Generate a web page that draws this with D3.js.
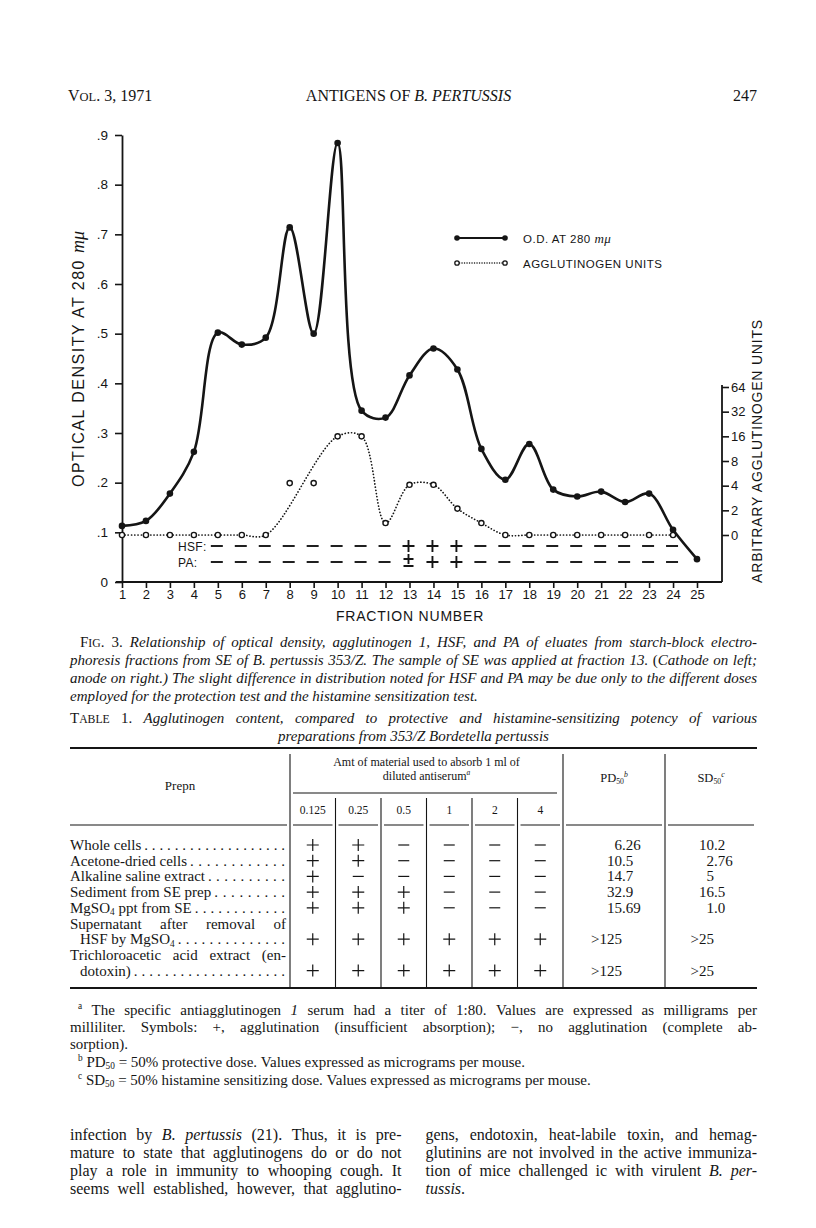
<!DOCTYPE html>
<html>
<head>
<meta charset="utf-8">
<script src="https://cdn.jsdelivr.net/npm/d3@7"></script>
<style>
  body { margin: 0; background: #fff; }
</style>
</head>
<body>
<svg id="page" width="816" height="1228"></svg>
<script>
// ---- chart data ----
const fractions = d3.range(1, 26);
const odValues = [0.113, 0.123, 0.178, 0.262, 0.502, 0.478, 0.492, 0.714, 0.500, 0.884,
                  0.345, 0.331, 0.416, 0.470, 0.428, 0.268, 0.206, 0.278, 0.186, 0.172,
                  0.182, 0.161, 0.178, 0.105, 0.046];
const aggFractions = d3.range(1, 25);
const aggValues = [0, 0, 0, 0, 0, 0, 0, 4.3, 4.3, 16, 16, 1.4, 4.1, 4.1, 2.1, 1.4,
                   0, 0, 0, 0, 0, 0, 0, 0];
const aggOffCurve = [8, 9];           // plotted points not joined by the dotted curve
const odTicks = [0, .1, .2, .3, .4, .5, .6, .7, .8, .9];
const aggTicks = [1, 2, 4, 8, 16, 32, 64];
const aggTickLabels = ['0', '2', '4', '8', '16', '32', '64'];
const testFractions = d3.range(5, 25);
const hsfResults = ['−','−','−','−','−','−','−','−','+','+','+','−','−','−','−','−','−','−','−','−'];
const paResults  = ['−','−','−','−','−','−','−','−','±','+','+','−','−','−','−','−','−','−','−','−'];

// ---- table data ----
const prepNames = [['Whole cells'], ['Acetone-dried cells'], ['Alkaline saline extract'],
  ['Sediment from SE prep'], ['MgSO{4} ppt from SE'],
  ['Supernatant after removal of', 'HSF by MgSO{4}'],
  ['Trichloroacetic acid extract (en-', 'dotoxin)']];
const doses = ['0.125', '0.25', '0.5', '1', '2', '4'];
const agglut = [
  ['+','+','−','−','−','−'],
  ['+','+','−','−','−','−'],
  ['+','−','−','−','−','−'],
  ['+','+','+','−','−','−'],
  ['+','+','+','−','−','−'],
  ['+','+','+','+','+','+'],
  ['+','+','+','+','+','+']];
const pd50 = ['6.26', '10.5', '14.7', '32.9', '15.69', '>125', '>125'];
const sd50 = ['10.2', '2.76', '5', '16.5', '1.0', '>25', '>25'];

const SERIF = 'Liberation Serif, Times New Roman, serif';
const SANS = 'Liberation Sans, Arial, sans-serif';
const INK = '#151515';
const L = 70, R = 757;

const svg = d3.select('#page');
svg.append('rect').attr('width', 816).attr('height', 1228).attr('fill', '#fff');

// ---------- rich text helpers ----------
// _ toggles italic, ~ toggles small caps, {..} subscript, ^{..} superscript
function parseWord(word, st) {
  const out = [];
  let buf = '', mode = 0;
  const flush = () => { if (buf) out.push({t: buf, it: st.it, sc: st.sc, mode}); buf = ''; };
  for (let i = 0; i < word.length; i++) {
    const c = word[i];
    if (c === '_') { flush(); st.it = !st.it; continue; }
    if (c === '~') { flush(); st.sc = !st.sc; continue; }
    if (c === '^' && word[i + 1] === '{') { flush(); mode = 2; i++; continue; }
    if (c === '{') { flush(); mode = 1; continue; }
    if (c === '}') { flush(); mode = 0; continue; }
    buf += c;
  }
  flush();
  return out;
}

function drawWord(g, word, st, size, yy, family) {
  const t = g.append('text').attr('x', 0).attr('y', yy)
    .attr('font-size', size).attr('font-family', family).attr('fill', INK);
  let off = 0;
  parseWord(word, st).forEach(s => {
    const k = (s.sc ? 0.78 : 1) * (s.mode ? 0.62 : 1);
    const target = s.mode === 1 ? 0.16 * size : s.mode === 2 ? -0.38 * size : 0;
    t.append('tspan')
      .attr('font-style', s.it ? 'italic' : null)
      .attr('font-size', size * k)
      .attr('dy', target - off)
      .text(s.t);
    off = target;
  });
  return t;
}

function textLine(g, str, x0, x1, yy, size, align, family) {
  const st = {it: false, sc: false};
  const words = str.split(' ').filter(w => w.length);
  const nodes = words.map(w => drawWord(g, w, st, size, yy, family || SERIF));
  const widths = nodes.map(n => n.node().getComputedTextLength());
  const sum = d3.sum(widths);
  let gap = size * 0.25;
  if (align === 'justify' && nodes.length > 1) gap = (x1 - x0 - sum) / (nodes.length - 1);
  const total = sum + gap * (nodes.length - 1);
  let cx = align === 'center' ? (x0 + x1) / 2 - total / 2 : align === 'right' ? x1 - total : x0;
  nodes.forEach((n, i) => { n.attr('x', cx); cx += widths[i] + gap; });
  return cx - gap;
}

// ---------- running head ----------
const head = svg.append('g');
textLine(head, 'V~OL~. 3, 1971', L - 2, R, 101, 16, 'left');
textLine(head, 'ANTIGENS OF _B. PERTUSSIS_', L, R - 10, 101, 16, 'center');
textLine(head, '247', L, R, 101, 16, 'right');

// ---------- chart ----------
const x = d3.scaleLinear().domain([1, 25]).range([122, 697]);
const y = d3.scaleLinear().domain([0, 0.9]).range([582, 135]);
const yAgg = d3.scaleLog().base(2).domain([1, 64]).range([535, 387]);

const chart = svg.append('g');

function styleAxis(g, size) {
  g.attr('font-family', SANS).attr('font-size', size);
  g.selectAll('text').attr('fill', INK);
  g.selectAll('line').attr('stroke', INK).attr('stroke-width', 1.6);
  g.select('.domain').attr('stroke', INK).attr('stroke-width', 1.8);
}

chart.append('g').attr('transform', 'translate(122,0)')
  .call(d3.axisLeft(y).tickValues(odTicks).tickSize(7).tickSizeOuter(0).tickPadding(7)
    .tickFormat(d => d === 0 ? '0' : '.' + Math.round(d * 10)))
  .call(g => styleAxis(g, 13.5));

chart.append('g').attr('transform', 'translate(0,582)')
  .call(d3.axisBottom(x).tickValues(fractions).tickSize(6).tickSizeOuter(0).tickPadding(2))
  .call(g => styleAxis(g, 13))
  .call(g => g.select('.domain').remove());
chart.append('line').attr('x1', 116).attr('x2', 722).attr('y1', 582).attr('y2', 582)
  .attr('stroke', INK).attr('stroke-width', 1.8);

chart.append('g').attr('transform', 'translate(722,0)')
  .call(d3.axisRight(yAgg).tickValues(aggTicks).tickSize(7).tickPadding(2)
    .tickFormat((d, i) => aggTickLabels[i]))
  .call(g => styleAxis(g, 13))
  .call(g => g.select('.domain').remove());
chart.append('line').attr('x1', 722).attr('x2', 722).attr('y1', 385).attr('y2', 582)
  .attr('stroke', INK).attr('stroke-width', 1.8);

// axis titles
const yTitle = chart.append('text')
  .attr('transform', 'translate(84,359) rotate(-90)')
  .attr('text-anchor', 'middle').attr('font-family', SANS).attr('font-size', 16)
  .attr('letter-spacing', 1.5).attr('fill', INK);
yTitle.append('tspan').text('OPTICAL DENSITY AT 280 ');
yTitle.append('tspan').attr('font-family', SERIF).attr('font-style', 'italic')
  .attr('font-size', 18).attr('letter-spacing', 0).text('mμ');

chart.append('text')
  .attr('transform', 'translate(762,451) rotate(-90)')
  .attr('text-anchor', 'middle').attr('font-family', SANS).attr('font-size', 14)
  .attr('letter-spacing', 0.8).attr('fill', INK)
  .text('ARBITRARY AGGLUTINOGEN UNITS');

chart.append('text').attr('x', 410).attr('y', 621)
  .attr('text-anchor', 'middle').attr('font-family', SANS).attr('font-size', 14)
  .attr('letter-spacing', 0.8).attr('fill', INK).text('FRACTION NUMBER');

// agglutinogen curve (dotted)
const aggPts = aggFractions.map((f, i) => ({f, v: Math.max(1, aggValues[i])}));
const aggLine = d3.line().x(d => x(d.f)).y(d => yAgg(d.v)).curve(d3.curveCatmullRom.alpha(0.5));
chart.append('path')
  .attr('d', aggLine(aggPts.filter(d => !aggOffCurve.includes(d.f))))
  .attr('fill', 'none').attr('stroke', INK).attr('stroke-width', 1.7)
  .attr('stroke-linecap', 'round').attr('stroke-dasharray', '0.1 3.1');
chart.selectAll('circle.agg').data(aggPts).join('circle').attr('class', 'agg')
  .attr('cx', d => x(d.f)).attr('cy', d => yAgg(d.v)).attr('r', 2.6)
  .attr('fill', '#fff').attr('stroke', INK).attr('stroke-width', 1.4);

// optical density curve (solid)
const odPts = fractions.map((f, i) => ({f, v: odValues[i]}));
const odLine = d3.line().x(d => x(d.f)).y(d => y(d.v)).curve(d3.curveCatmullRom.alpha(0.5));
chart.append('path').attr('d', odLine(odPts))
  .attr('fill', 'none').attr('stroke', INK).attr('stroke-width', 2.6);
chart.selectAll('circle.od').data(odPts).join('circle').attr('class', 'od')
  .attr('cx', d => x(d.f)).attr('cy', d => y(d.v)).attr('r', 3.3).attr('fill', INK);

// HSF / PA rows
function markPath(sym, cx, cy, h) {
  if (sym === '−') return `M${cx - h},${cy}H${cx + h}`;
  if (sym === '+') return `M${cx - h},${cy}H${cx + h}M${cx},${cy - h}V${cy + h}`;
  return `M${cx - h + 1},${cy - 3}H${cx + h - 1}M${cx},${cy - h - 2}V${cy + 2}M${cx - h + 1},${cy + 4}H${cx + h - 1}`;
}
const rows = [{label: 'HSF:', res: hsfResults, cy: 546}, {label: 'PA:', res: paResults, cy: 562}];
rows.forEach(r => {
  chart.append('text').attr('x', 178).attr('y', r.cy + 4.5)
    .attr('font-family', SANS).attr('font-size', 12).attr('letter-spacing', 0.3)
    .attr('fill', INK).text(r.label);
  chart.append('g').selectAll('path').data(testFractions).join('path')
    .attr('d', (f, i) => markPath(r.res[i], x(f) - 1, r.cy, 6))
    .attr('fill', 'none').attr('stroke', INK).attr('stroke-width', 1.9);
});

// legend
const lg = chart.append('g');
lg.append('line').attr('x1', 457).attr('x2', 505).attr('y1', 238).attr('y2', 238)
  .attr('stroke', INK).attr('stroke-width', 2.2);
lg.selectAll('circle.a').data([457, 505]).join('circle').attr('class', 'a')
  .attr('cx', d => d).attr('cy', 238).attr('r', 2.8).attr('fill', INK);
lg.append('line').attr('x1', 457).attr('x2', 505).attr('y1', 263).attr('y2', 263)
  .attr('stroke', INK).attr('stroke-width', 1.4).attr('stroke-linecap', 'round')
  .attr('stroke-dasharray', '0.1 2.4');
lg.selectAll('circle.b').data([457, 505]).join('circle').attr('class', 'b')
  .attr('cx', d => d).attr('cy', 263).attr('r', 2.2).attr('fill', '#fff')
  .attr('stroke', INK).attr('stroke-width', 1.3);
const l1 = lg.append('text').attr('x', 523).attr('y', 242.5).attr('font-family', SANS)
  .attr('font-size', 11.5).attr('letter-spacing', 0.5).attr('fill', INK);
l1.append('tspan').text('O.D.  AT  280 ');
l1.append('tspan').attr('font-family', SERIF).attr('font-style', 'italic')
  .attr('font-size', 13).text('mμ');
lg.append('text').attr('x', 523).attr('y', 267.5).attr('font-family', SANS)
  .attr('font-size', 11.5).attr('letter-spacing', 0.5).attr('fill', INK)
  .text('AGGLUTINOGEN UNITS');

// ---------- figure legend ----------
const cap = svg.append('g');
const capLines = [
  'F~IG~. 3. _Relationship of optical density, agglutinogen 1, HSF, and PA of eluates from starch-block electro-_',
  '_phoresis fractions from SE of B. pertussis 353/Z. The sample of SE was applied at fraction 13._ (_Cathode on left;_',
  '_anode on right.) The slight difference in distribution noted for HSF and PA may be due only to the different doses_',
  '_employed for the protection test and the histamine sensitization test._'];
capLines.forEach((s, i) => textLine(cap, s, i ? L : L + 10, R, 647 + i * 18, 15, i < 3 ? 'justify' : 'left'));

// ---------- table ----------
const tb = svg.append('g');
textLine(tb, 'T~ABLE~ 1. _Agglutinogen content, compared to protective and histamine-sensitizing potency of various_',
  L, R, 723, 15, 'justify');
textLine(tb, '_preparations from 353/Z Bordetella pertussis_', L, R, 741, 15, 'center');

const colX = d3.scaleBand().domain(doses).range([290, 563]);
const vPrep = 290, vPD = 563, vSD = 665;
const tTop = 748, tSub = 793, tHead = 825, tBot = 988;

const rule = (x1, x2, yy, w) => tb.append('line').attr('x1', x1).attr('x2', x2)
  .attr('y1', yy).attr('y2', yy).attr('stroke', INK).attr('stroke-width', w);
const vline = (xx, y1, y2) => tb.append('line').attr('x1', xx).attr('x2', xx)
  .attr('y1', y1).attr('y2', y2).attr('stroke', INK).attr('stroke-width', 1.1);

rule(L, R, tTop, 2);
rule(L, R, tBot, 2);
rule(vPrep + 3, vPD - 6, tSub, 1.1);
const headCells = [L, vPrep, ...doses.slice(1).map(d => colX(d)), vPD, vSD, R];
headCells.slice(0, -1).forEach((x0, i) => rule(x0 + (i ? 3 : 0), headCells[i + 1] - 3, tHead, 1.1));
[vPrep, vPD, vSD].forEach(v => vline(v, tTop + 6, tBot));
doses.slice(1).forEach(d => vline(colX(d), tSub + 5, tBot));

textLine(tb, 'Prepn', L, vPrep, 790, 13, 'center');
textLine(tb, 'Amt of material used to absorb 1 ml of', vPrep, vPD, 766, 12, 'center');
textLine(tb, 'diluted antiserum^{_a_}', vPrep, vPD, 779.5, 12, 'center');
textLine(tb, 'PD{50}^{_b_}', vPD, vSD, 782, 12.5, 'center');
textLine(tb, 'SD{50}^{_c_}', vSD, R, 782, 12.5, 'center');
doses.forEach(d => textLine(tb, d, colX(d), colX(d) + colX.bandwidth(), 814, 11.5, 'center'));

function decimalCell(val, decX, yy) {
  const [ip, dp] = val.split('.');
  tb.append('text').attr('x', decX).attr('y', yy).attr('text-anchor', 'end')
    .attr('font-family', SERIF).attr('font-size', 15).attr('fill', INK).text(ip);
  if (dp !== undefined) tb.append('text').attr('x', decX).attr('y', yy)
    .attr('font-family', SERIF).attr('font-size', 15).attr('fill', INK).text('.' + dp);
}

let base = 850;
const rowStep = 15.7;
prepNames.forEach((lines, r) => {
  lines.forEach((s, li) => {
    const x0 = li ? L + 10 : L;
    const last = li === lines.length - 1;
    const end = textLine(tb, s, x0, vPrep - 4, base, 15, last ? 'left' : 'justify');
    if (last) {
      const start = end + 3;
      const n = Math.floor((vPrep - 4 - start) / 7.4);
      if (n > 0) tb.append('text').attr('x', start).attr('y', base)
        .attr('font-family', SERIF).attr('font-size', 15).attr('fill', INK)
        .attr('textLength', vPrep - 5 - start).attr('lengthAdjust', 'spacing')
        .text('.'.repeat(n));
    }
    if (!last) base += rowStep;
  });
  const cy = base - 5;
  tb.append('g').selectAll('path').data(doses).join('path')
    .attr('d', (d, i) => markPath(agglut[r][i], colX(d) + colX.bandwidth() / 2, cy, agglut[r][i] === '+' ? 6 : 5.5))
    .attr('fill', 'none').attr('stroke', INK).attr('stroke-width', 1.2);
  decimalCell(pd50[r], 622, base);
  decimalCell(sd50[r], 714, base);
  base += rowStep;
});

// ---------- table footnotes ----------
const fn = svg.append('g');
textLine(fn, '^{a} The specific antiagglutinogen _1_ serum had a titer of 1:80. Values are expressed as milligrams per',
  L + 8, R, 1015, 15, 'justify');
textLine(fn, 'milliliter. Symbols: +, agglutination (insufficient absorption); −, no agglutination (complete ab-',
  L, R, 1032, 15, 'justify');
textLine(fn, 'sorption).', L, R, 1049, 15, 'left');
textLine(fn, '^{b} PD{50} = 50% protective dose. Values expressed as micrograms per mouse.', L + 8, R, 1067, 15, 'left');
textLine(fn, '^{c} SD{50} = 50% histamine sensitizing dose. Values expressed as micrograms per mouse.', L + 8, R, 1085, 15, 'left');

// ---------- body text, two columns ----------
const body = svg.append('g');
const mid = (L + R) / 2;
const leftCol = [
  'infection by _B. pertussis_ (21). Thus, it is pre-',
  'mature to state that agglutinogens do or do not',
  'play a role in immunity to whooping cough. It',
  'seems well established, however, that agglutino-'];
const rightCol = [
  'gens, endotoxin, heat-labile toxin, and hemag-',
  'glutinins are not involved in the active immuniza-',
  'tion of mice challenged ic with virulent _B. per-_',
  '_tussis_.'];
leftCol.forEach((s, i) => textLine(body, s, L, mid - 12, 1140 + i * 18, 16, 'justify'));
rightCol.forEach((s, i) => textLine(body, s, mid + 12, R, 1140 + i * 18, 16, i < 3 ? 'justify' : 'left'));
</script>
</body>
</html>
